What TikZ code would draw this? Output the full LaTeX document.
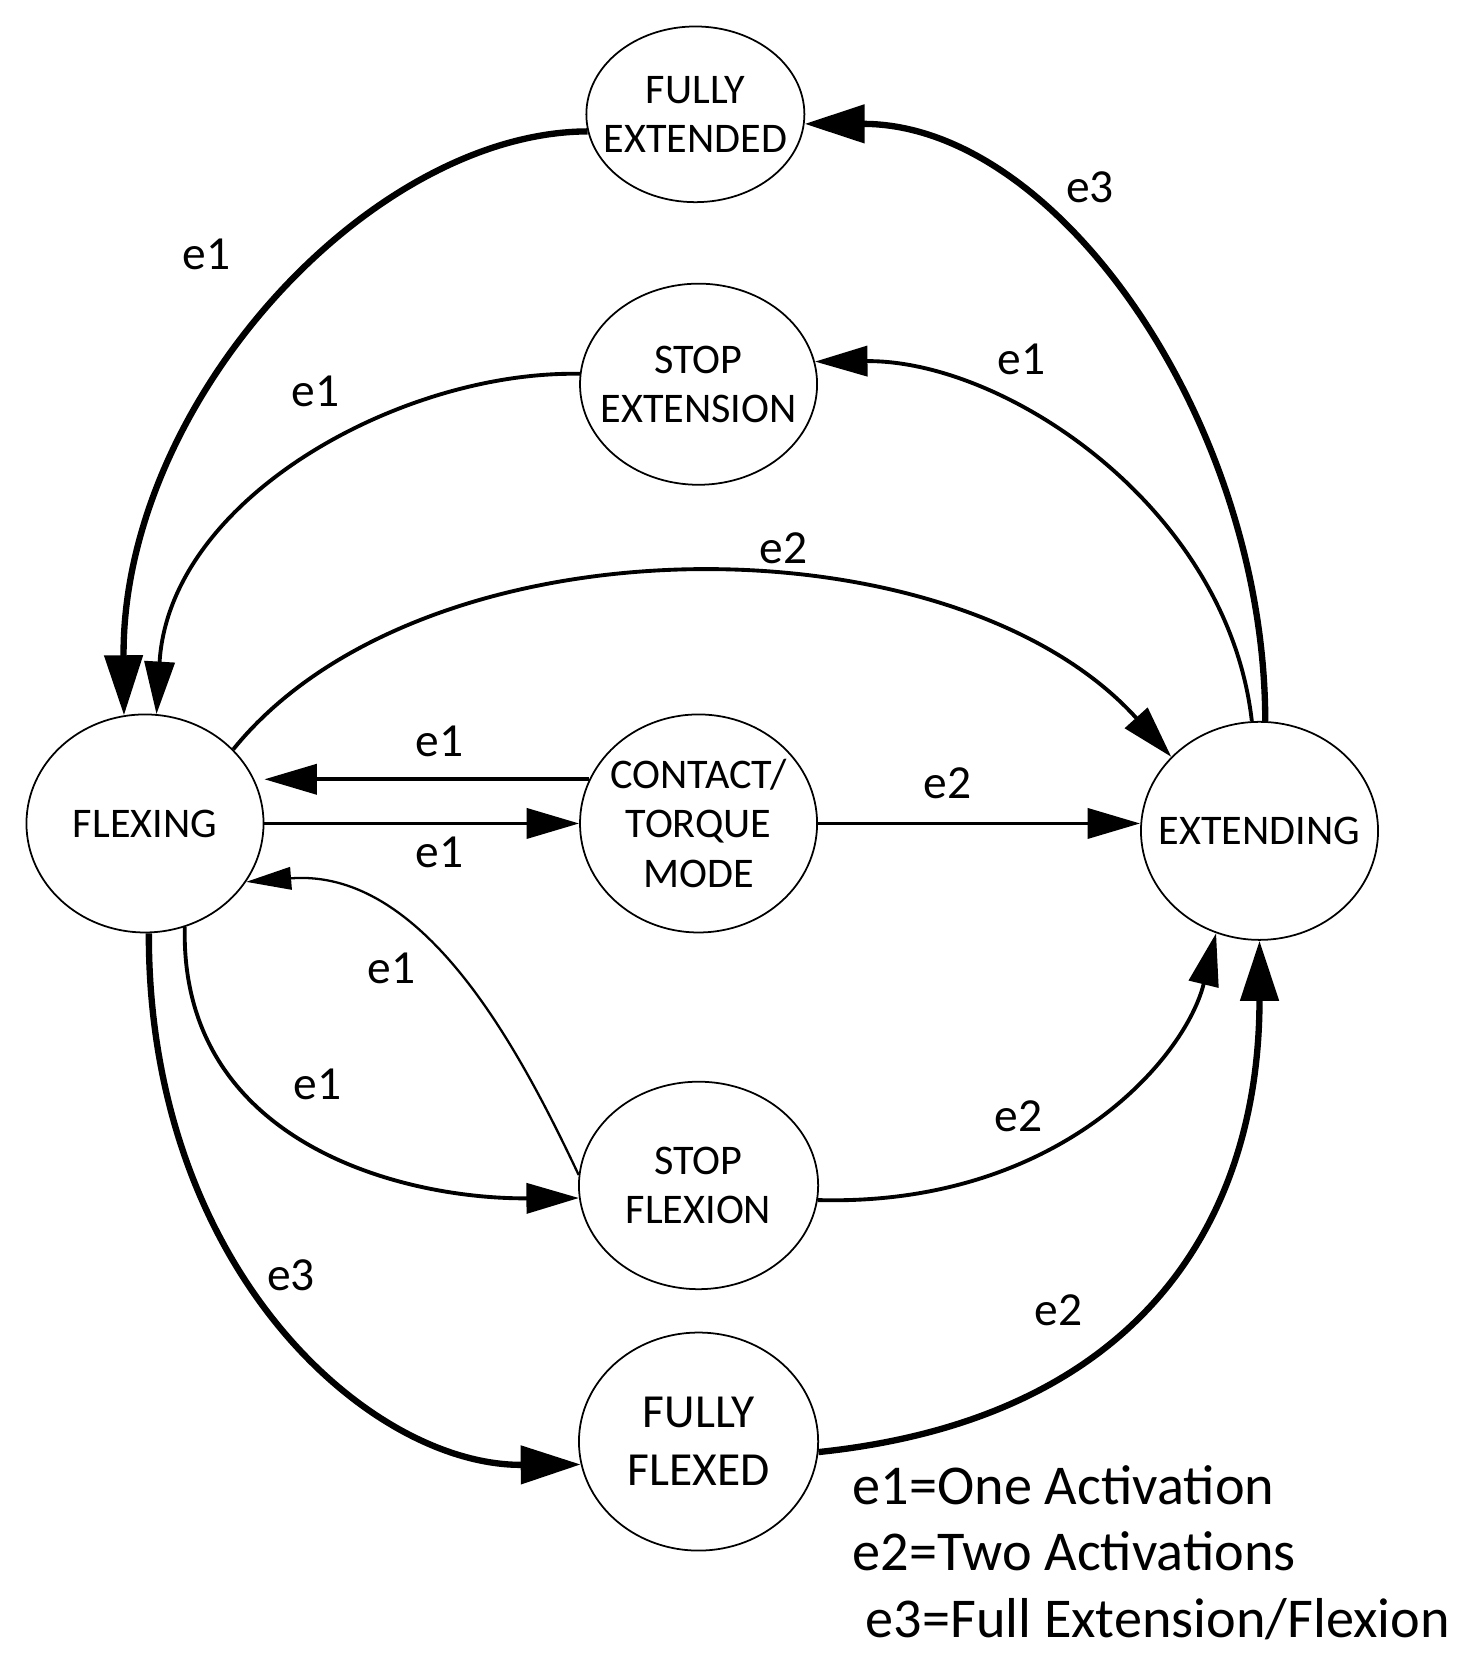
\documentclass[tikz,border=0pt]{standalone}
\usepackage{fontspec}
\setmainfont{Carlito}
\usetikzlibrary{shapes.geometric,arrows.meta}
\begin{document}
\begin{tikzpicture}[x=0.02116cm,y=-0.02116cm,
  st/.style={ellipse,draw,line width=1pt,inner xsep=-30pt,inner ysep=0pt,font=\fontsize{24}{28}\selectfont,align=center},
  big/.style={line width=3.6pt,-{Triangle[length=1.2cm,width=0.75cm]}},
  med/.style={line width=2.2pt,-{Triangle[length=1.05cm,width=0.6cm]}},
  thin/.style={line width=1.3pt,-{Triangle[length=0.9cm,width=0.45cm]}},
  lb/.style={font=\fontsize{27}{30}\selectfont}]
\useasboundingbox (0,0) rectangle (1390,1575);
\node[st,minimum width=206*0.02116cm,minimum height=166*0.02116cm] (fe) at (657,108) {FULLY\\EXTENDED};
\node[st,minimum width=224*0.02116cm,minimum height=190*0.02116cm] (se) at (660,363) {STOP\\EXTENSION};
\node[st,minimum width=224*0.02116cm,minimum height=206*0.02116cm] (fx) at (137,778) {FLEXING};
\node[st,minimum width=224*0.02116cm,minimum height=206*0.02116cm] (ct) at (660,778) {CONTACT/\\TORQUE\\MODE};
\node[st,minimum width=224*0.02116cm,minimum height=206*0.02116cm] (ex) at (1190,785) {EXTENDING};
\node[st,minimum width=226*0.02116cm,minimum height=196*0.02116cm] (sf) at (660,1120) {STOP\\FLEXION};
\node[st,minimum width=226*0.02116cm,minimum height=206*0.02116cm,font=\fontsize{27}{33}\selectfont] (ff) at (660,1362) {FULLY\\FLEXED};

\draw[big] (fe.189) .. controls (350,125) and (115,380) .. (fx.101);
\draw[med] (se.175) .. controls (380,350) and (160,470) .. (fx.84);
\draw[med] (fx.40) .. controls (400,486) and (900,486) .. (ex.140);
\draw[med] (ct.158) -- (fx.east |- ct.158);
\draw[med] (fx.east) -- (ct.west);
\draw[med] (ct.east) -- (ct.east -| ex.west);
\draw[big] (ex.87) .. controls (1195,400) and (1000,117) .. (fe.355);
\draw[med] (ex.94) .. controls (1160,480) and (950,340) .. (se.11);
\draw[thin] (sf.175) .. controls (490,990) and (400,820) .. (fx.330);
\draw[med] (fx.291) .. controls (170,1080) and (380,1133) .. (sf.186);
\draw[big] (fx.272) .. controls (140,1200) and (350,1385) .. (ff.191);
\draw[med] (sf.353) .. controls (1000,1140) and (1120,1000) .. (ex.247);
\draw[big] (ff.355) .. controls (1080,1340) and (1190,1150) .. (ex.270);

\node[lb] (l1) at (195,240) {e1};
\node[lb] (l2) at (298,370) {e1};
\node[lb] (l3) at (740,518) {e2};
\node[lb] (l4) at (415,700) {e1};
\node[lb] (l5) at (415,805) {e1};
\node[lb] (l6) at (895,740) {e2};
\node[lb] (l7) at (1030,177) {e3};
\node[lb] (l8) at (965,340) {e1};
\node[lb] (l9) at (370,915) {e1};
\node[lb] (l10) at (300,1025) {e1};
\node[lb] (l11) at (275,1205) {e3};
\node[lb] (l12) at (962,1055) {e2};
\node[lb] (l13) at (1000,1238) {e2};
\node[anchor=west,font=\fontsize{32}{38}\selectfont,align=left] (leg) at (800,1467) {e1=One Activation\\e2=Two Activations\\\ e3=Full Extension/Flexion};
\end{tikzpicture}
\end{document}
